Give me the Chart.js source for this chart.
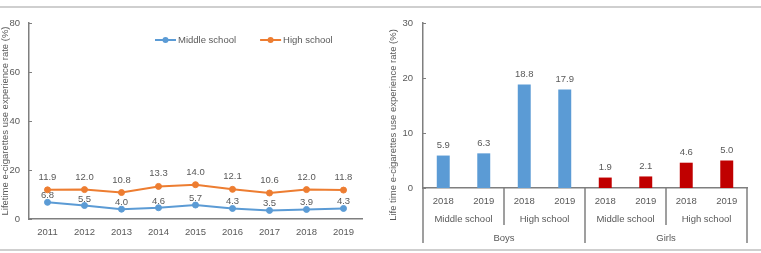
<!DOCTYPE html>
<html><head><meta charset="utf-8">
<script src="https://cdn.jsdelivr.net/npm/chart.js@4.4.1/dist/chart.umd.min.js"></script>
<style>
html,body{margin:0;padding:0;background:#fff;}
#wrap{position:relative;width:761px;height:253px;overflow:hidden;background:#fff;}
#c1{position:absolute;left:0;top:0;}
#c2{position:absolute;left:380px;top:0;}
.rule{position:absolute;left:0;width:761px;background:#cfcfcf;}
</style></head><body>
<div id="wrap">
<div class="rule" style="top:6px;height:2px"></div>
<div class="rule" style="top:249px;height:2px"></div>
<canvas id="c1" width="380" height="253"></canvas>
<canvas id="c2" width="381" height="253"></canvas>
</div>
<script>
// ---- Data: left chart ----
const years = ['2011','2012','2013','2014','2015','2016','2017','2018','2019'];
const middleSchool = [6.8, 5.5, 4.0, 4.6, 5.7, 4.3, 3.5, 3.9, 4.3];
const highSchool = [11.9, 12.0, 10.8, 13.3, 14.0, 12.1, 10.6, 12.0, 11.8];
const leftYMax = 80, leftYStep = 20;
const leftYTitle = 'Lifetime e-cigarettes use experience rate (%)';

// ---- Data: right chart ----
const surveyYears = ['2018','2019'];
const schools = ['Middle school','High school'];
const genders = ['Boys','Girls'];
const boys = [5.9, 6.3, 18.8, 17.9];
const girls = [1.9, 2.1, 4.6, 5.0];
const rightYMax = 30, rightYStep = 10;
const rightYTitle = 'Life time e-cigarettes use experience rate (%)';

// ---- Styles ----
const FONT = 'Liberation Sans, Arial, sans-serif';
const FS = 9.5;
const TXT = '#595959';
const AXIS = '#7f7f7f';
const BLUE = '#5B9BD5', ORANGE = '#ED7D31', RED = '#C00000';

const innerTicks = {
  id: 'innerTicks',
  afterDraw(chart) {
    const y = chart.scales.y, ctx = chart.ctx;
    ctx.save(); ctx.strokeStyle = AXIS; ctx.lineWidth = 1;
    y.ticks.forEach(t => {
      const py = Math.round(y.getPixelForValue(t.value)) + 0.5;
      ctx.beginPath(); ctx.moveTo(y.right, py); ctx.lineTo(y.right + 3, py); ctx.stroke();
    });
    ctx.restore();
  }
};

const valueLabels = {
  id: 'valueLabels',
  afterDatasetsDraw(chart, args, opts) {
    const ctx = chart.ctx;
    ctx.save();
    ctx.font = FS + 'px ' + FONT; ctx.fillStyle = TXT;
    ctx.textAlign = 'center'; ctx.textBaseline = 'alphabetic';
    chart.data.datasets.forEach((ds, i) => {
      const meta = chart.getDatasetMeta(i);
      const off = opts.offsets[i];
      meta.data.forEach((el, j) => {
        const v = ds.data[j];
        if (v == null) return;
        ctx.fillText(v.toFixed(1), el.x, el.y - off);
      });
    });
    ctx.restore();
  }
};

const customLegend = {
  id: 'customLegend',
  afterDraw(chart) {
    const ctx = chart.ctx, a = chart.chartArea;
    let x = a.left + 126; const y = a.top + 17;
    ctx.save();
    ctx.font = FS + 'px ' + FONT; ctx.textBaseline = 'middle'; ctx.textAlign = 'left';
    chart.data.datasets.forEach(ds => {
      ctx.strokeStyle = ds.borderColor; ctx.lineWidth = 2;
      ctx.beginPath(); ctx.moveTo(x, y); ctx.lineTo(x + 21, y); ctx.stroke();
      ctx.fillStyle = ds.borderColor;
      ctx.beginPath(); ctx.arc(x + 10.5, y, 3, 0, Math.PI * 2); ctx.fill();
      ctx.fillStyle = TXT;
      ctx.fillText(ds.label, x + 23, y);
      x += 23 + ctx.measureText(ds.label).width + 24;
    });
    ctx.restore();
  }
};

const leftChart = new Chart(document.getElementById('c1'), {
  type: 'line',
  data: {
    labels: years,
    datasets: [
      { label: 'Middle school', data: middleSchool, borderColor: BLUE, backgroundColor: BLUE,
        pointBackgroundColor: BLUE, pointBorderColor: BLUE, pointRadius: 3, pointBorderWidth: 1, borderWidth: 2, tension: 0 },
      { label: 'High school', data: highSchool, borderColor: ORANGE, backgroundColor: ORANGE,
        pointBackgroundColor: ORANGE, pointBorderColor: ORANGE, pointRadius: 3, pointBorderWidth: 1, borderWidth: 2, tension: 0 }
    ]
  },
  options: {
    responsive: false, animation: false,
    layout: { padding: { left: 0, right: 18, top: 23, bottom: 14 } },
    plugins: { legend: { display: false }, tooltip: { enabled: false },
      valueLabels: { offsets: [4, 10] } },
    scales: {
      x: {
        offset: true,
        grid: { display: false, drawTicks: false },
        border: { display: true, color: AXIS, width: 1.5 },
        ticks: { color: TXT, font: { family: FONT, size: FS }, padding: 8, maxRotation: 0, autoSkip: false },
        afterFit: s => { s.height = 20; }
      },
      y: {
        min: 0, max: leftYMax,
        grid: { display: false, drawTicks: false },
        border: { display: true, color: AXIS, width: 1.5 },
        ticks: { stepSize: leftYStep, color: TXT, font: { family: FONT, size: FS }, padding: 9 },
        title: { display: true, text: leftYTitle, color: TXT, font: { family: FONT, size: FS }, padding: { top: 0, bottom: 0 } },
        afterFit: s => { s.width = 29; }
      }
    }
  },
  plugins: [innerTicks, valueLabels, customLegend]
});

// ---- Right chart ----
const nCats = genders.length * schools.length * surveyYears.length;
const catLabels = genders.flatMap(() => schools.flatMap(() => surveyYears));
const boysData = catLabels.map((_, i) => i < boys.length ? boys[i] : null);
const girlsData = catLabels.map((_, i) => i >= boys.length ? girls[i - boys.length] : null);

const multiLevel = {
  id: 'multiLevel',
  afterDraw(chart) {
    const ctx = chart.ctx, x = chart.scales.x, base = x.top;
    const n = chart.data.labels.length;
    const bound = i => i === 0 ? x.left : i === n ? x.right : (x.getPixelForValue(i - 1) + x.getPixelForValue(i)) / 2;
    const schoolSpan = n / (genders.length * schools.length);
    const genderSpan = n / genders.length;
    ctx.save();
    ctx.strokeStyle = AXIS; ctx.lineWidth = 1.5;
    for (let i = 0; i <= n; i += schoolSpan) {
      const bx = Math.round(bound(i));
      const long = i % genderSpan === 0;
      ctx.beginPath(); ctx.moveTo(bx, base); ctx.lineTo(bx, base + (long ? 55 : 37)); ctx.stroke();
    }
    ctx.font = FS + 'px ' + FONT; ctx.fillStyle = TXT; ctx.textAlign = 'center'; ctx.textBaseline = 'middle';
    genders.forEach((g, gi) => {
      schools.forEach((s, si) => {
        const start = gi * genderSpan + si * schoolSpan;
        ctx.fillText(s, (bound(start) + bound(start + schoolSpan)) / 2, base + 31);
      });
      ctx.fillText(g, (bound(gi * genderSpan) + bound((gi + 1) * genderSpan)) / 2, base + 50);
    });
    // y-axis title
    ctx.translate(x.left - 29.5, 125);
    ctx.rotate(-Math.PI / 2);
    ctx.fillText(rightYTitle, 0, 0);
    ctx.restore();
  }
};

const rightChart = new Chart(document.getElementById('c2'), {
  type: 'bar',
  data: {
    labels: catLabels,
    datasets: [
      { label: 'Boys', data: boysData, backgroundColor: BLUE, grouped: false },
      { label: 'Girls', data: girlsData, backgroundColor: RED, grouped: false }
    ]
  },
  options: {
    responsive: false, animation: false,
    layout: { padding: { left: 0, right: 14, top: 23, bottom: 45 } },
    datasets: { bar: { barPercentage: 0.32, categoryPercentage: 1 } },
    plugins: { legend: { display: false }, tooltip: { enabled: false },
      valueLabels: { offsets: [7.5, 7.5] } },
    scales: {
      x: {
        grid: { display: false, drawTicks: false },
        border: { display: true, color: AXIS, width: 1.5 },
        ticks: { color: TXT, font: { family: FONT, size: FS }, padding: 8, maxRotation: 0, autoSkip: false },
        afterFit: s => { s.height = 20; }
      },
      y: {
        min: 0, max: rightYMax,
        grid: { display: false, drawTicks: false },
        border: { display: true, color: AXIS, width: 1.5 },
        ticks: { stepSize: rightYStep, color: TXT, font: { family: FONT, size: FS }, padding: 10 },
        afterFit: s => { s.width = 43; }
      }
    }
  },
  plugins: [innerTicks, valueLabels, multiLevel]
});
</script>
</body></html>
